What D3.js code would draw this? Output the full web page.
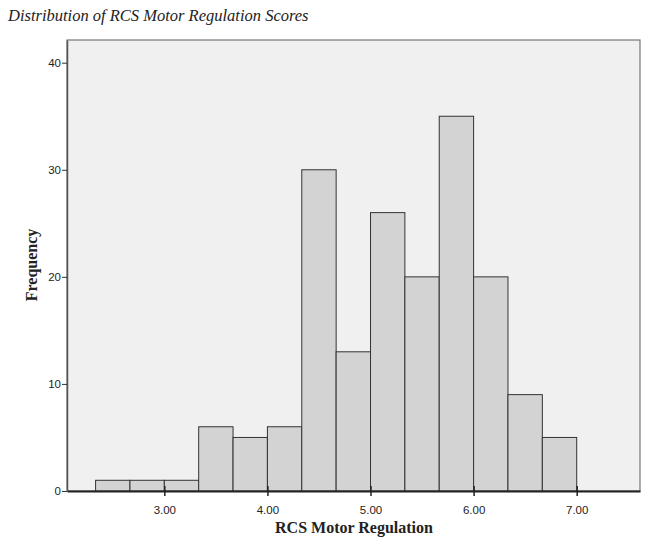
<!DOCTYPE html>
<html>
<head>
<meta charset="utf-8">
<script src="https://cdnjs.cloudflare.com/ajax/libs/d3/7.8.5/d3.min.js"></script>
<style>
  body { margin: 0; background: #fff; }
  svg { display: block; }
  .tick text { font-family: Arial, "Liberation Sans", sans-serif; font-size: 11.5px; fill: #222; }
</style>
</head>
<body>
<svg id="chart" width="649" height="545"></svg>
<script>
// bin edges (width 1/3) and frequency per bin
var binStarts = [7/3, 8/3, 3, 10/3, 11/3, 4, 13/3, 14/3, 5, 16/3, 17/3, 6, 19/3, 20/3];
var binWidth = 1 / 3;
var counts = [1, 1, 1, 6, 5, 6, 30, 13, 26, 20, 35, 20, 9, 5];
var xTicks = [3, 4, 5, 6, 7];
var yTicks = [0, 10, 20, 30, 40];

(function () {
  var svg = d3.select('#chart');
  var plotLeft = 67, plotRight = 640, plotTop = 40, plotBottom = 491;
  var serif = '"Liberation Serif", "Times New Roman", serif';

  var x = d3.scaleLinear().domain([2.056, 7.614]).range([plotLeft, plotRight]);
  var y = d3.scaleLinear().domain([0, 42.12]).range([plotBottom, plotTop]);

  svg.append('text')
    .attr('x', 8).attr('y', 21)
    .attr('font-family', serif)
    .attr('font-style', 'italic').attr('font-size', 16.5).attr('fill', '#222')
    .text('Distribution of RCS Motor Regulation Scores');

  svg.append('rect')
    .attr('x', plotLeft).attr('y', plotTop)
    .attr('width', plotRight - plotLeft).attr('height', plotBottom - plotTop)
    .attr('fill', '#f0f0f0').attr('stroke', '#777').attr('stroke-width', 1.2);

  svg.selectAll('rect.bar').data(counts).enter().append('rect')
    .attr('class', 'bar')
    .attr('x', function (d, i) { return x(binStarts[i]); })
    .attr('y', function (d) { return y(d); })
    .attr('width', function (d, i) { return x(binStarts[i] + binWidth) - x(binStarts[i]); })
    .attr('height', function (d) { return y(0) - y(d); })
    .attr('fill', '#d3d3d3').attr('stroke', '#333').attr('stroke-width', 1);

  var xAxis = svg.append('g')
    .attr('transform', 'translate(0,' + plotBottom + ')')
    .call(d3.axisBottom(x).tickValues(xTicks).tickFormat(d3.format('.2f')).tickSize(5).tickSizeOuter(0));
  xAxis.select('.domain').attr('stroke', '#222').attr('stroke-width', 2);
  xAxis.selectAll('.tick line').attr('stroke', '#222').attr('stroke-width', 1.5).attr('y1', -5);
  xAxis.selectAll('.tick text').attr('dy', '1.3em');

  var yAxis = svg.append('g')
    .attr('transform', 'translate(' + plotLeft + ',0)')
    .call(d3.axisLeft(y).tickValues(yTicks).tickSize(5).tickSizeOuter(0));
  yAxis.select('.domain').attr('stroke', '#555').attr('stroke-width', 1.5);
  yAxis.selectAll('.tick line').attr('stroke', '#333');
  yAxis.selectAll('.tick text').attr('x', -6);

  svg.append('text')
    .attr('x', 354).attr('y', 533)
    .attr('text-anchor', 'middle')
    .attr('font-family', serif)
    .attr('font-weight', 'bold').attr('font-size', 16).attr('fill', '#222')
    .text('RCS Motor Regulation');

  svg.append('text')
    .attr('transform', 'translate(37,265) rotate(-90)')
    .attr('text-anchor', 'middle')
    .attr('font-family', serif)
    .attr('font-weight', 'bold').attr('font-size', 16).attr('fill', '#222')
    .text('Frequency');
})();
</script>
</body>
</html>
